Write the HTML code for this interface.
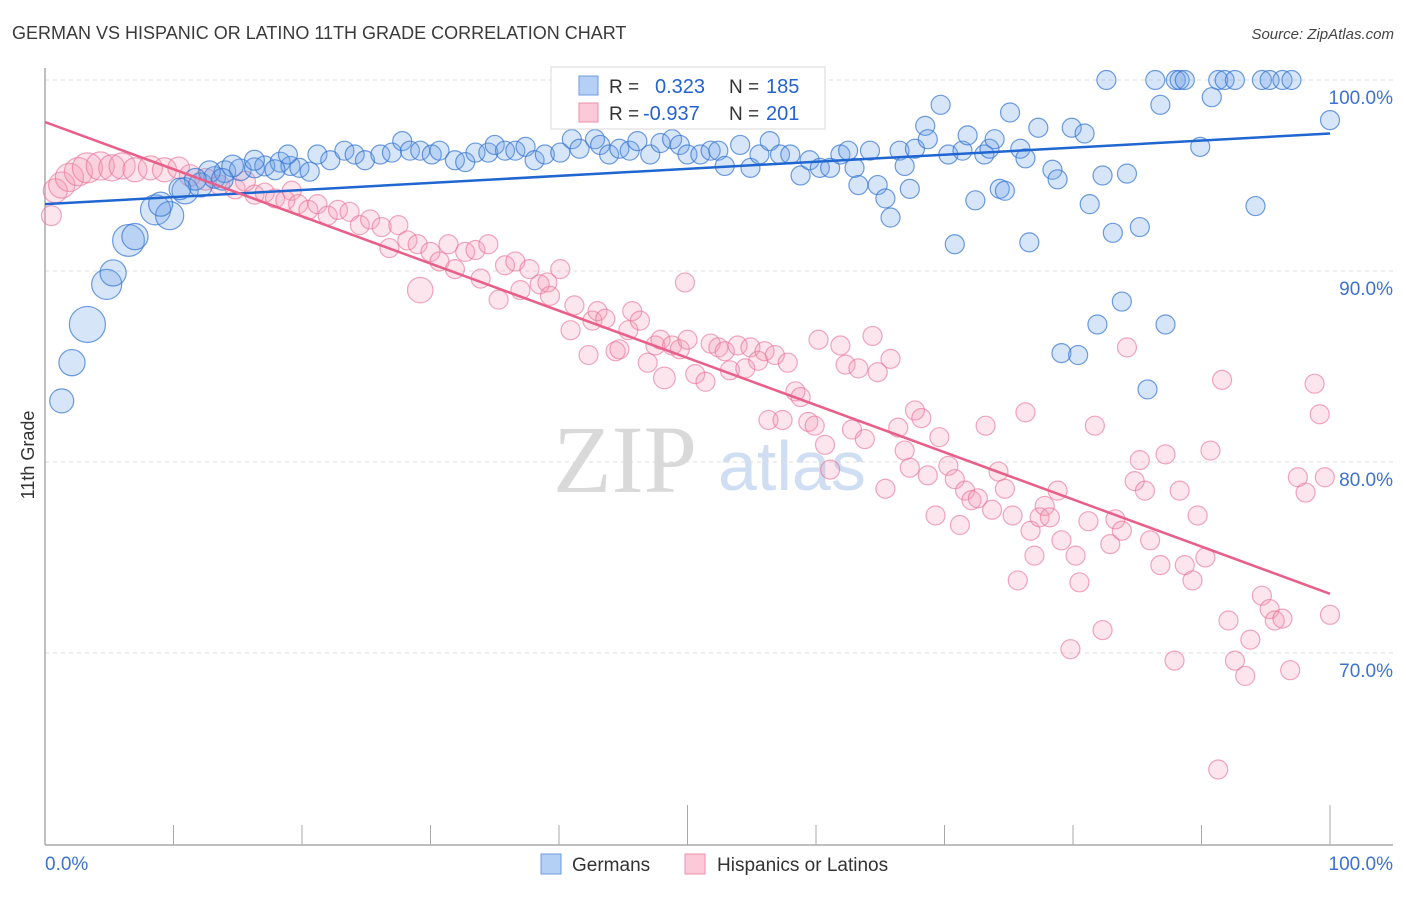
<!DOCTYPE html>
<html><head><meta charset="utf-8">
<style>
body{margin:0;background:#fff;width:1406px;height:892px;overflow:hidden;font-family:"Liberation Sans",sans-serif}
</style></head>
<body>
<svg id="chart" width="1406" height="892" viewBox="0 0 1406 892" xmlns="http://www.w3.org/2000/svg">
<text x="12" y="39" font-size="18" fill="#3a3a3a" font-family="Liberation Sans, sans-serif">GERMAN VS HISPANIC OR LATINO 11TH GRADE CORRELATION CHART</text>
<text x="1394" y="39" font-size="15" fill="#444" font-style="italic" text-anchor="end">Source: ZipAtlas.com</text>
<g>
<text x="553" y="492" font-size="96" fill="#d9d9d9" font-family="Liberation Serif, serif">ZIP</text>
<text x="718" y="490" font-size="70" fill="#cfdef3" font-family="Liberation Sans, sans-serif">atlas</text>
</g>
<g id="grid"></g>
<g id="axes"></g>
<g id="pts"></g>
<g id="trend"></g>
<text transform="translate(34,455) rotate(-90)" font-size="18" fill="#333" text-anchor="middle">11th Grade</text>
<g>
<rect x="551" y="67" width="274" height="62" fill="#fff" stroke="#d8d8d8"/>
<rect x="579" y="76" width="19" height="19" fill="#b5d0f5" stroke="#6a9be0"/>
<rect x="579" y="103" width="19" height="19" fill="#fbc9d7" stroke="#ec8fab"/>
<text x="609" y="93" font-size="19" fill="#333">R =</text>
<text x="655" y="93" font-size="20" fill="#2463d0">0.323</text>
<text x="729" y="93" font-size="19" fill="#333">N =</text>
<text x="766" y="93" font-size="20" fill="#2463d0">185</text>
<text x="609" y="120" font-size="19" fill="#333">R =</text>
<text x="643" y="120" font-size="20" fill="#2463d0">-0.937</text>
<text x="729" y="120" font-size="19" fill="#333">N =</text>
<text x="766" y="120" font-size="20" fill="#2463d0">201</text>
</g>
<g>
<rect x="541" y="854" width="20" height="20" fill="#b5d0f5" stroke="#6a9be0"/>
<text x="572" y="871" font-size="19" fill="#333">Germans</text>
<rect x="685" y="854" width="20" height="20" fill="#fbc9d7" stroke="#ec8fab"/>
<text x="717" y="871" font-size="19" fill="#333">Hispanics or Latinos</text>
</g>
</svg>
<script>
const yTicks=[100,90,80,70];
const yTickLabels=["100.0%","90.0%","80.0%","70.0%"];
const xTickLabels=["0.0%","100.0%"];
const blueX=[1.3,2.1,3.3,4.8,5.3,6.5,7.0,8.6,9.7,9.0,10.9,12.1,13.2,14.0,15.2,16.3,17.1,18.3,19.1,19.8,20.6,18.9,21.2,22.2,23.3,24.1,24.9,26.1,27.0,27.8,28.4,29.2,30.1,30.7,31.9,32.7,33.5,34.5,35.0,35.8,36.6,37.4,38.1,38.9,40.1,41.0,41.6,42.8,43.2,43.9,44.7,45.5,46.1,47.1,47.9,48.8,49.4,50.0,51.0,51.8,52.4,52.9,54.1,54.9,55.6,56.4,57.2,58.0,58.8,59.5,60.3,61.1,61.9,62.5,63.0,63.3,64.2,64.8,65.4,65.8,66.5,66.9,67.3,67.7,68.5,68.7,69.7,70.3,70.8,71.4,71.8,72.4,73.1,73.5,73.9,74.3,74.7,75.1,75.9,76.3,76.6,77.3,78.4,78.8,79.1,79.9,80.4,80.9,81.3,81.9,82.3,82.6,83.1,83.8,84.2,85.2,85.8,86.4,86.8,87.2,88.0,88.3,88.7,89.9,90.8,91.3,91.8,92.6,94.2,94.7,95.3,96.3,97.0,100,12.8,14.6,16.3,17.9,11.7,10.5,13.8];
const blueY=[83.2,85.2,87.2,89.3,89.9,91.6,91.8,93.2,92.9,93.5,94.2,94.5,94.9,95.2,95.3,95.4,95.5,95.7,95.5,95.4,95.2,96.1,96.1,95.8,96.3,96.1,95.8,96.1,96.2,96.8,96.3,96.3,96.1,96.3,95.8,95.7,96.2,96.2,96.6,96.3,96.3,96.5,95.8,96.1,96.2,96.9,96.4,96.9,96.6,96.1,96.4,96.3,96.8,96.1,96.7,96.9,96.6,96.1,96.1,96.3,96.3,95.5,96.6,95.4,96.1,96.8,96.1,96.1,95.0,95.8,95.4,95.4,96.1,96.3,95.4,94.5,96.3,94.5,93.8,92.8,96.3,95.5,94.3,96.4,97.6,96.9,98.7,96.1,91.4,96.3,97.1,93.7,96.1,96.4,96.9,94.3,94.2,98.3,96.4,95.9,91.5,97.5,95.3,94.8,85.7,97.5,85.6,97.2,93.5,87.2,95.0,100,92.0,88.4,95.1,92.3,83.8,100,98.7,87.2,100,100,100,96.5,99.1,100,100,100,93.4,100,100,100,100,97.9,95.2,95.5,95.8,95.3,94.8,94.3,94.8];
const blueW=[1.6,1.9,3.6,2.5,1.9,2.8,1.9,2.5,2.2,1.6,1.9,1.6,1.3,1.3,1.3,1.1,1.1,1.1,1,1,1,1,1,1,1,1,1,1,1,1,1,1,1,1,1,1,1,1,1,1,1,1,1,1,1,1,1,1,1,1,1,1,1,1,1,1,1,1,1,1,1,1,1,1,1,1,1,1,1,1,1,1,1,1,1,1,1,1,1,1,1,1,1,1,1,1,1,1,1,1,1,1,1,1,1,1,1,1,1,1,1,1,1,1,1,1,1,1,1,1,1,1,1,1,1,1,1,1,1,1,1,1,1,1,1,1,1,1,1,1,1,1,1,1,1.3,1.3,1.1,1.1,1.3,1.3,1.3];
const pinkX=[0.5,0.8,1.3,1.9,2.6,3.3,4.3,5.2,6.0,7.0,8.2,9.3,10.4,11.3,12.5,13.6,14.8,15.6,16.3,17.1,17.9,18.7,19.2,19.7,20.5,21.2,22.0,22.8,23.7,24.5,25.3,26.2,26.8,27.5,28.2,29.0,29.2,30.0,30.7,31.4,31.9,32.7,33.5,33.9,34.5,35.3,35.8,36.6,37.0,37.7,38.5,39.1,39.3,40.1,40.9,41.2,42.3,42.6,43.0,43.6,44.4,44.7,45.4,45.7,46.3,46.9,47.5,47.9,48.2,48.8,49.4,50.0,49.8,50.6,51.4,51.8,52.4,52.9,53.3,53.9,54.5,54.9,55.5,56.0,56.3,56.8,57.4,57.8,58.4,58.8,59.4,59.9,60.2,60.7,61.1,61.9,62.3,62.8,63.3,63.8,64.4,64.8,65.4,65.8,66.4,66.9,67.3,67.7,68.2,68.7,69.3,69.6,70.3,70.8,71.2,71.6,72.1,72.6,73.2,73.7,74.2,74.7,75.3,75.7,76.3,76.7,77.0,77.4,77.8,78.2,78.8,79.1,79.8,80.2,80.5,81.2,81.7,82.3,82.9,83.3,83.8,84.2,84.8,85.2,85.6,86.0,86.8,87.2,87.9,88.3,88.7,89.3,89.7,90.3,90.7,91.6,91.3,92.1,92.6,93.4,93.8,94.7,95.3,95.7,96.3,96.9,97.5,98.1,98.8,99.2,99.6,100];
const pinkY=[92.9,94.2,94.5,94.9,95.2,95.4,95.5,95.4,95.5,95.3,95.4,95.3,95.4,95.0,94.8,94.5,94.3,94.7,94.0,94.1,93.8,93.7,94.2,93.5,93.2,93.5,92.9,93.2,93.1,92.4,92.7,92.3,91.2,92.4,91.6,91.4,89.0,91.0,90.5,91.4,90.1,91.0,91.1,89.6,91.4,88.5,90.3,90.5,89.0,90.1,89.3,89.4,88.7,90.1,86.9,88.2,85.6,87.4,87.9,87.5,85.8,85.9,86.9,87.9,87.4,85.2,86.1,86.4,84.4,86.1,85.9,86.4,89.4,84.6,84.2,86.2,86.0,85.8,84.8,86.1,84.9,86.0,85.3,85.8,82.2,85.6,82.2,85.2,83.7,83.4,82.1,81.9,86.4,80.9,79.6,86.1,85.1,81.7,84.9,81.2,86.6,84.7,78.6,85.4,81.8,80.6,79.7,82.7,82.3,79.3,77.2,81.3,79.8,79.1,76.7,78.5,78.0,78.1,81.9,77.5,79.5,78.6,77.2,73.8,82.6,76.4,75.1,77.1,77.7,77.1,78.5,75.9,70.2,75.1,73.7,76.9,81.9,71.2,75.7,77.0,76.4,86.0,79.0,80.1,78.5,75.9,74.6,80.4,69.6,78.5,74.6,73.8,77.2,75.0,80.6,84.3,63.9,71.7,69.6,68.8,70.7,73.0,72.3,71.7,71.8,69.1,79.2,78.4,84.1,82.5,79.2,72.0];
const pinkW=[1.1,1.6,1.9,2.2,2.2,2.5,2.2,1.9,1.9,1.6,1.6,1.6,1.3,1.3,1.3,1.1,1.1,1.1,1,1,1,1,1,1,1,1,1,1,1,1,1,1,1,1,1,1,1.8,1,1,1,1,1,1,1,1,1,1,1,1,1,1,1,1,1,1,1,1,1,1,1,1,1,1,1,1,1,1,1,1.3,1,1,1,1,1,1,1,1,1,1,1,1,1,1,1,1,1,1,1,1,1,1,1,1,1,1,1,1,1,1,1,1,1,1,1,1,1,1,1,1,1,1,1,1,1,1,1,1,1,1,1,1,1,1,1,1,1,1,1,1,1,1,1,1,1,1,1,1,1,1,1,1,1,1,1,1,1,1,1,1,1,1,1,1,1,1,1,1,1,1,1,1,1,1,1,1,1,1,1,1,1,1,1,1,1,1,1];
const blueTrend=[93.5,97.2];
const pinkTrend=[97.8,73.1];

const NS="http://www.w3.org/2000/svg";
const X0=45,X1=1330,Y100=80,PX10=191;
const xs=v=>X0+(X1-X0)*v/100;
const ys=v=>Y100+(100-v)*PX10/10;
function mk(tag,attrs,parent){const e=document.createElementNS(NS,tag);for(const k in attrs)e.setAttribute(k,attrs[k]);parent.appendChild(e);return e;}
const grid=document.getElementById('grid'),axes=document.getElementById('axes'),pts=document.getElementById('pts'),trend=document.getElementById('trend');
yTicks.forEach((t,i)=>{
  const l=mk('line',{x1:45,x2:1393,y1:ys(t),y2:ys(t),stroke:'#dcdcdc','stroke-dasharray':'4,4','stroke-width':1},grid);
  
  
  const tx=mk('text',{x:1393,y:ys(t)+24,'font-size':19,fill:'#3b73cf','text-anchor':'end'},axes);
  tx.textContent=yTickLabels[i];
  
  
});
const ya=mk('line',{x1:45,x2:45,y1:68,y2:845,stroke:'#aaa','stroke-width':1.5},axes);


const xa=mk('line',{x1:45,x2:1393,y1:845,y2:845,stroke:'#aaa','stroke-width':1.5},axes);


for(let i=0;i<=10;i++){
  const tk=mk('line',{x1:xs(i*10),x2:xs(i*10),y1:(i==5||i==10)?805:825,y2:845,stroke:'#aaa','stroke-width':1},axes);
  
  
}
const xl0=mk('text',{x:45,y:870,'font-size':19,fill:'#3b73cf'},axes);xl0.textContent=xTickLabels[0];


const xl1=mk('text',{x:1393,y:870,'font-size':19,fill:'#3b73cf','text-anchor':'end'},axes);xl1.textContent=xTickLabels[1];


pinkX.forEach((v,i)=>{
  const c=mk('circle',{cx:xs(v),cy:ys(pinkY[i]),r:9.5*Math.sqrt(pinkW[i]),fill:'rgba(245,150,180,0.25)',stroke:'rgba(232,110,150,0.6)','stroke-width':1.2},pts);
  
  
});
blueX.forEach((v,i)=>{
  const c=mk('circle',{cx:xs(v),cy:ys(blueY[i]),r:9.5*Math.sqrt(blueW[i]),fill:'rgba(110,160,230,0.28)',stroke:'rgba(50,115,210,0.7)','stroke-width':1.2},pts);
  
  
});
const bt=mk('line',{x1:xs(0),y1:ys(blueTrend[0]),x2:xs(100),y2:ys(blueTrend[1]),stroke:'#1f66d1','stroke-width':2.5},trend);


const pt=mk('line',{x1:xs(0),y1:ys(pinkTrend[0]),x2:xs(100),y2:ys(pinkTrend[1]),stroke:'#e8608a','stroke-width':2.5},trend);


</script>
</body></html>
